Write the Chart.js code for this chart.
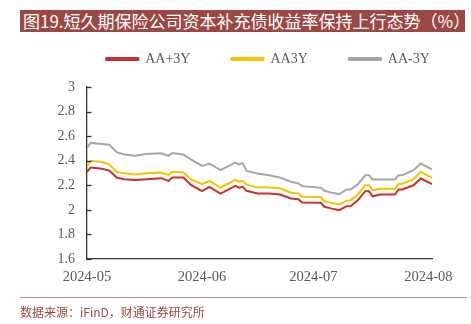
<!DOCTYPE html>
<html>
<head>
<meta charset="utf-8">
<script src="https://cdn.jsdelivr.net/npm/chart.js@4.4.1/dist/chart.umd.min.js"></script>
<style>
  html, body { margin: 0; padding: 0; background: #fff; overflow: hidden; }
  #wrap { position: relative; width: 471px; height: 324px; }
  #title { position: absolute; left: 20px; top: 10px; width: 445px; height: 22px; background: #9b4844; color: #fff;
           font-family: "Noto Sans CJK SC", sans-serif; font-size: 17px; line-height: 22px; padding-left: 3px; box-sizing: border-box; white-space: nowrap; overflow: hidden; }
  #rule { position: absolute; left: 20px; top: 297px; width: 447px; height: 0; border-top: 1px solid #c08c88; }
  #source { position: absolute; left: 20px; top: 304px; color: #9b4844; font-family: "Noto Sans CJK SC", sans-serif; font-size: 12px; line-height: 16px; white-space: nowrap; }
  canvas { position: absolute; left: 0; top: 0; }
</style>
</head>
<body>
<div id="wrap">
  <canvas id="c" width="471" height="324"></canvas>
  <div id="title">图19.短久期保险公司资本补充债收益率保持上行态势（%）</div>
  <div id="rule"></div>
  <div id="source">数据来源：iFinD，财通证券研究所</div>
</div>
<script>
// Day offsets from 2024-05 axis start
const dayOffsets = [0,1,4,6,8,10,13,16,20,22,23,26,28,31,33,36,40,41,42,43,46,49,52,55,57,58,63,64,66,68,70,71,73,75,76,77,79,83,84,85,88,90,93];
const seriesNames = ['AA+3Y', 'AA3Y', 'AA-3Y'];
const aaPlus3Y = [2.31,2.345,2.335,2.32,2.263,2.25,2.243,2.25,2.258,2.236,2.263,2.263,2.203,2.152,2.187,2.133,2.195,2.18,2.187,2.155,2.134,2.133,2.125,2.093,2.087,2.06,2.057,2.025,2.01,1.997,2.03,2.03,2.078,2.152,2.152,2.11,2.125,2.125,2.166,2.166,2.2,2.255,2.21];
const aa3Y = [2.355,2.40,2.39,2.37,2.31,2.297,2.287,2.297,2.303,2.285,2.31,2.305,2.25,2.21,2.236,2.18,2.245,2.23,2.237,2.205,2.183,2.182,2.175,2.14,2.133,2.107,2.104,2.07,2.055,2.044,2.075,2.077,2.125,2.2,2.2,2.16,2.172,2.172,2.21,2.213,2.25,2.31,2.26];
const aaMinus3Y = [2.507,2.545,2.537,2.53,2.47,2.45,2.44,2.455,2.46,2.44,2.463,2.45,2.41,2.358,2.377,2.323,2.385,2.37,2.38,2.317,2.296,2.282,2.263,2.228,2.215,2.193,2.18,2.155,2.14,2.128,2.166,2.166,2.207,2.282,2.282,2.247,2.247,2.247,2.282,2.282,2.323,2.377,2.33];
const xTickValues = [0, 31, 61, 92];
const xTickLabels = ['2024-05', '2024-06', '2024-07', '2024-08'];

const toPts = arr => arr.map((v, i) => ({ x: dayOffsets[i], y: v }));
const colors = ['#c8302f', '#f7c200', '#a6a6a6'];
const seriesData = [aaPlus3Y, aa3Y, aaMinus3Y];

const tickFont = { family: '"Liberation Serif", "Times New Roman", serif', size: 14 };

const innerTicks = {
  id: 'innerTicks',
  afterLayout(chart) {
    const lg = chart.legend;
    if (lg) { lg.left += 52; lg.right += 52; lg.top -= 11; lg.bottom -= 11; }
  },
  afterDraw(chart) {
    const y = chart.scales.y;
    const ctx = chart.ctx;
    ctx.save();
    ctx.strokeStyle = '#333';
    ctx.lineWidth = 1.3;
    y.ticks.forEach(t => {
      const py = Math.round(y.getPixelForValue(t.value)) + 0.5;
      ctx.beginPath();
      ctx.moveTo(y.right, py);
      ctx.lineTo(y.right + 4.5, py);
      ctx.stroke();
    });
    ctx.restore();
  }
};

new Chart(document.getElementById('c'), {
  type: 'line',
  data: {
    datasets: seriesData.map((d, i) => ({
      label: seriesNames[i],
      data: toPts(d),
      borderColor: colors[i],
      backgroundColor: colors[i],
      borderWidth: 2,
      pointRadius: 0,
      tension: 0
    }))
  },
  options: {
    responsive: false,
    animation: false,
    layout: { padding: { left: 0, right: 39, top: 22, bottom: 0 } },
    plugins: {
      legend: {
        position: 'top',
        labels: {
          boxWidth: 32,
          boxHeight: 2,
          padding: 41,
          color: '#595959',
          font: { family: '"Liberation Serif", "Times New Roman", serif', size: 14 }
        }
      },
      tooltip: { enabled: false }
    },
    scales: {
      x: {
        type: 'linear',
        min: 0,
        max: 93,
        afterBuildTicks: s => { s.ticks = xTickValues.map(v => ({ value: v })); },
        afterFit: s => { s.height = 65; },
        grid: { display: false, drawTicks: false },
        border: { display: true, color: '#333', width: 1.3 },
        ticks: {
          autoSkip: false,
          maxRotation: 0,
          padding: 9,
          color: '#595959',
          font: { family: tickFont.family, size: 14.5 },
          callback: (v) => { const i = xTickValues.indexOf(v); return i >= 0 ? xTickLabels[i] : ''; }
        }
      },
      y: {
        min: 1.6,
        max: 3,
        afterFit: s => { s.width = 87; },
        grid: { display: false, drawTicks: false },
        border: { display: true, color: '#333', width: 1.3 },
        ticks: { stepSize: 0.2, padding: 12, color: '#595959', font: tickFont,
                 callback: v => String(Number(v.toFixed(1))) }
      }
    }
  },
  plugins: [innerTicks]
});
</script>
</body>
</html>
